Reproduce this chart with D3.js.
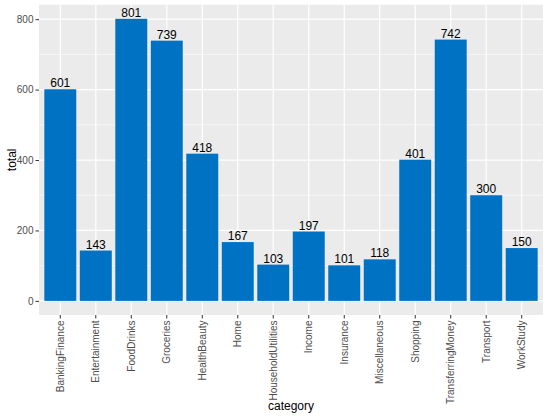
<!DOCTYPE html>
<html>
<head>
<meta charset="utf-8">
<script src="https://cdn.jsdelivr.net/npm/d3@7"></script>
<style>
  body { margin: 0; background: #fff; }
  text { font-family: "Liberation Sans", Arial, sans-serif; }
</style>
</head>
<body>
<div id="chart"></div>
<script>
var categories = ["BankingFinance", "Entertainment", "FoodDrinks", "Groceries", "HealthBeauty", "Home",
    "HouseholdUtilities", "Income", "Insurance", "Miscellaneous", "Shopping", "TransferringMoney",
    "Transport", "WorkStudy"];
var totals = [601, 143, 801, 739, 418, 167, 103, 197, 101, 118, 401, 742, 300, 150];
var yTicks = [0, 200, 400, 600, 800];
var yMinor = [100, 300, 500, 700];

var W = 548, H = 418;
// panel edges (note: "top" is reserved on window, so use other names)
var pLeft = 39, pRight = 543, pTop = 4.7, pBottom = 315;

var svg = d3.select("#chart").append("svg")
    .attr("width", W).attr("height", H);

// ggplot-like expansion: 5% on continuous, 0.6 on discrete
var maxV = d3.max(totals);
var y = d3.scaleLinear()
    .domain([-0.05 * maxV, maxV * 1.05])
    .range([pBottom, pTop]);

// bar = 0.9 of step, first centre 0.6 step in from the panel edge
var x = d3.scaleBand()
    .domain(categories)
    .range([pLeft, pRight])
    .paddingInner(0.1)
    .paddingOuter(0.15);

function cx(c) { return x(c) + x.bandwidth() / 2; }

svg.append("rect")
    .attr("x", pLeft).attr("y", pTop)
    .attr("width", pRight - pLeft).attr("height", pBottom - pTop)
    .attr("fill", "#EBEBEB");

var grid = svg.append("g");
grid.selectAll(".minor").data(yMinor).enter().append("line")
    .attr("x1", pLeft).attr("x2", pRight)
    .attr("y1", function(d) { return y(d); }).attr("y2", function(d) { return y(d); })
    .attr("stroke", "#fff").attr("stroke-width", 0.6);
grid.selectAll(".major").data(yTicks).enter().append("line")
    .attr("x1", pLeft).attr("x2", pRight)
    .attr("y1", function(d) { return y(d); }).attr("y2", function(d) { return y(d); })
    .attr("stroke", "#fff").attr("stroke-width", 1.2);
grid.selectAll(".vmajor").data(categories).enter().append("line")
    .attr("y1", pTop).attr("y2", pBottom)
    .attr("x1", cx).attr("x2", cx)
    .attr("stroke", "#fff").attr("stroke-width", 1.2);

svg.selectAll(".bar").data(totals).enter().append("rect")
    .attr("x", function(d, i) { return x(categories[i]); })
    .attr("width", x.bandwidth())
    .attr("y", function(d) { return y(d); })
    .attr("height", function(d) { return y(0) - y(d); })
    .attr("fill", "#0072C4");

svg.selectAll(".lbl").data(totals).enter().append("text")
    .attr("x", function(d, i) { return cx(categories[i]); })
    .attr("y", function(d) { return y(d) - 2; })
    .attr("text-anchor", "middle")
    .attr("font-size", "12px")
    .attr("fill", "#000")
    .text(function(d) { return d; });

// y axis
var yAxis = svg.append("g")
    .attr("transform", "translate(" + pLeft + ",0)")
    .call(d3.axisLeft(y).tickValues(yTicks).tickSize(3.5).tickPadding(2));
yAxis.select(".domain").remove();
yAxis.selectAll(".tick line").attr("stroke", "#333");
yAxis.selectAll(".tick text").attr("fill", "#4D4D4D").attr("font-size", "10px")
    .attr("font-family", "Liberation Sans, Arial, sans-serif");

// x axis
var xAxis = svg.append("g")
    .attr("transform", "translate(0," + pBottom + ")")
    .call(d3.axisBottom(x).tickSize(3.5).tickPadding(2));
xAxis.select(".domain").remove();
xAxis.selectAll(".tick line").attr("stroke", "#333");
xAxis.selectAll(".tick text")
    .attr("fill", "#4D4D4D").attr("font-size", "10px")
    .attr("font-family", "Liberation Sans, Arial, sans-serif")
    .attr("transform", "rotate(-90)")
    .attr("text-anchor", "end")
    .attr("x", -5.5).attr("y", 0).attr("dy", "0.35em");

svg.append("text")
    .attr("x", (pLeft + pRight) / 2).attr("y", 410)
    .attr("text-anchor", "middle")
    .attr("font-size", "12px")
    .text("category");

svg.append("text")
    .attr("transform", "translate(16," + ((pTop + pBottom) / 2) + ") rotate(-90)")
    .attr("text-anchor", "middle")
    .attr("font-size", "12px")
    .text("total");
</script>
</body>
</html>
